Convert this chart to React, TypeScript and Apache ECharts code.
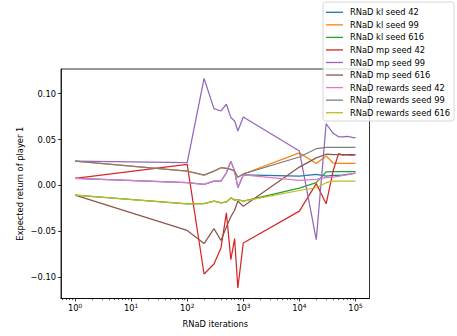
import React, { useEffect, useRef } from 'react';
import * as echarts from 'echarts';

// Training checkpoints (RNaD iterations) at which player 1's return was evaluated
const iterations = [1, 100, 200, 300, 400, 500, 600, 700, 800, 1000, 10000, 20000, 30000, 40000, 50000, 60000, 70000, 80000, 90000, 100000];

const klSeed42 = [0.0078, 0.003, 0.0011, 0.0047, 0.0047, 0.0138, 0.0265, 0.0156, -0.0025, 0.0115, 0.0102, 0.012, 0.0102, 0.011, 0.011, 0.0115, 0.012, 0.0125, 0.013, 0.0135];
const klSeed99 = [0.0265, 0.0156, 0.0113, 0.0156, 0.0193, 0.0186, 0.0175, 0.0155, 0.009, 0.0125, 0.0355, 0.024, 0.032, 0.0245, 0.024, 0.024, 0.024, 0.024, 0.024, 0.024];
const klSeed616 = [-0.0106, -0.02, -0.0197, -0.0171, -0.019, -0.018, -0.0135, -0.016, -0.0153, -0.017, -0.003, 0.003, 0.0148, 0.015, 0.015, 0.015, 0.015, 0.015, 0.015, 0.015];
const mpSeed42 = [0.0078, 0.0229, -0.0964, -0.0855, -0.068, -0.0298, -0.0808, -0.0579, -0.1117, -0.0626, -0.028, 0.002, -0.02, 0.016, 0.0346, 0.033, 0.0335, 0.033, 0.033, 0.0335];
const mpSeed99 = [0.0265, 0.0248, 0.1165, 0.0837, 0.0811, 0.0884, 0.0739, 0.0702, 0.0593, 0.0746, 0.0375, -0.059, 0.067, 0.0568, 0.053, 0.053, 0.0535, 0.053, 0.052, 0.052];
const mpSeed616 = [-0.0106, -0.049, -0.0633, -0.047, -0.06, -0.045, -0.034, -0.027, -0.017, -0.0226, 0.02, 0.03, 0.034, 0.0335, 0.0335, 0.0335, 0.0335, 0.0335, 0.0335, 0.0335];
const rewardsSeed42 = [0.0078, 0.003, 0.0011, 0.0047, 0.0047, 0.0138, 0.0265, 0.0156, -0.0025, 0.0115, 0.0055, 0.0066, 0.0084, 0.009, 0.01, 0.011, 0.0115, 0.012, 0.0128, 0.0135];
const rewardsSeed99 = [0.0265, 0.0156, 0.0113, 0.0156, 0.0193, 0.0186, 0.0175, 0.0155, 0.009, 0.0125, 0.031, 0.04, 0.0415, 0.0415, 0.0415, 0.0415, 0.0415, 0.0415, 0.0415, 0.0415];
const rewardsSeed616 = [-0.0106, -0.02, -0.0197, -0.0171, -0.019, -0.018, -0.0135, -0.016, -0.0153, -0.017, -0.0055, -0.0025, 0.003, 0.0047, 0.0047, 0.0047, 0.0047, 0.0047, 0.0047, 0.0047];

const seriesNames = [
  'RNaD kl seed 42',
  'RNaD kl seed 99',
  'RNaD kl seed 616',
  'RNaD mp seed 42',
  'RNaD mp seed 99',
  'RNaD mp seed 616',
  'RNaD rewards seed 42',
  'RNaD rewards seed 99',
  'RNaD rewards seed 616',
];
const seriesValues = [klSeed42, klSeed99, klSeed616, mpSeed42, mpSeed99, mpSeed616, rewardsSeed42, rewardsSeed99, rewardsSeed616];
const colors = ['#1f77b4', '#ff7f0e', '#2ca02c', '#d62728', '#9467bd', '#8c564b', '#e377c2', '#7f7f7f', '#bcbd22'];

// Axis ticks
const xMajorTicks = [1, 10, 100, 1000, 10000, 100000];
const yTicks = [-0.1, -0.05, 0, 0.05, 0.1];

const xMin = Math.pow(10, -0.25);
const xMax = Math.pow(10, 5.25);
const yMin = -0.1231;
const yMax = 0.1268;

const xMinorTicks: number[] = [];
for (let k = -1; k <= 5; k++) {
  for (let m = 2; m <= 9; m++) {
    const v = m * Math.pow(10, k);
    if (v > xMin && v < xMax) xMinorTicks.push(v);
  }
}

const FONT = 'DejaVu Sans';
const FS = 8.3;

export default function App() {
  const ref = useRef<HTMLDivElement>(null);

  useEffect(() => {
    const chart = echarts.init(ref.current as HTMLDivElement, null, { renderer: 'svg' });

    const series = seriesNames.map((name, i) => ({
      name,
      type: 'line',
      xAxisIndex: 0,
      yAxisIndex: 0,
      data: iterations.map((it, j) => [it, seriesValues[i][j]]),
      showSymbol: false,
      symbol: 'none',
      lineStyle: { width: 1.25, color: colors[i] },
      itemStyle: { color: colors[i] },
      silent: true,
    }));

    const option = {
      animation: false,
      textStyle: { fontFamily: FONT },
      grid: {
        left: 61,
        top: 69,
        width: 308.5,
        height: 229.5,
        show: true,
        borderColor: '#000',
        borderWidth: 0.8,
        backgroundColor: 'transparent',
      },
      xAxis: [
        {
          type: 'log',
          logBase: 10,
          min: xMin,
          max: xMax,
          position: 'bottom',
          name: 'RNaD iterations',
          nameLocation: 'middle',
          nameGap: 21,
          nameMoveOverlap: false,
          nameTextStyle: { fontFamily: FONT, fontSize: FS, color: '#000' },
          axisLine: { show: true, onZero: false, lineStyle: { color: '#000', width: 0.8 } },
          axisTick: { show: true, length: 2.9, customValues: xMajorTicks, lineStyle: { color: '#000', width: 0.8 } },
          axisLabel: {
            show: true,
            customValues: xMajorTicks,
            margin: 4,
            fontFamily: FONT,
            fontSize: FS,
            color: '#000',
            formatter: (v: number) => `{b|10}{sup|${Math.round(Math.log10(v))}}`,
            rich: {
              b: { fontFamily: FONT, fontSize: FS, lineHeight: 11, color: '#000' },
              sup: { fontFamily: FONT, fontSize: 5.8, verticalAlign: 'top', color: '#000' },
            },
          },
          splitLine: { show: false },
          minorTick: { show: false },
        },
        {
          type: 'log',
          logBase: 10,
          min: xMin,
          max: xMax,
          position: 'bottom',
          axisLine: { show: false, onZero: false },
          axisTick: { show: true, length: 1.7, customValues: xMinorTicks, lineStyle: { color: '#000', width: 0.6 } },
          axisLabel: { show: false },
          splitLine: { show: false },
        },
      ],
      yAxis: {
        type: 'value',
        min: yMin,
        max: yMax,
        name: 'Expected return of player 1',
        nameLocation: 'middle',
        nameRotate: 90,
        nameGap: 41,
        nameMoveOverlap: false,
        nameTextStyle: { fontFamily: FONT, fontSize: FS, color: '#000', verticalAlign: 'middle' },
        axisLine: { show: true, onZero: false, lineStyle: { color: '#000', width: 0.8 } },
        axisTick: { show: true, length: 2.9, customValues: yTicks, lineStyle: { color: '#000', width: 0.8 } },
        axisLabel: {
          show: true,
          customValues: yTicks,
          margin: 5,
          fontFamily: FONT,
          fontSize: FS,
          color: '#000',
          formatter: (v: number) => v.toFixed(2).replace('-', '\u2212'),
        },
        splitLine: { show: false },
      },
      legend: {
        orient: 'vertical',
        left: 323,
        top: 2,
        padding: [5.3, 4, 3.3, 3],
        itemGap: 2.55,
        itemWidth: 17,
        itemHeight: 1.3,
        icon: 'rect',
        backgroundColor: 'rgba(255,255,255,0.8)',
        borderColor: '#cccccc',
        borderWidth: 0.8,
        borderRadius: 2.5,
        selectedMode: false,
        data: seriesNames,
        textStyle: { fontFamily: FONT, fontSize: FS, lineHeight: 10, color: '#000', padding: [0, 0, 0, 2] },
      },
      series,
    };

    chart.setOption(option as any);
    return () => chart.dispose();
  }, []);

  return (
    <div
      ref={ref}
      style={{ position: 'fixed', left: 0, top: 0, width: 457, height: 336, background: '#fff' }}
    />
  );
}
